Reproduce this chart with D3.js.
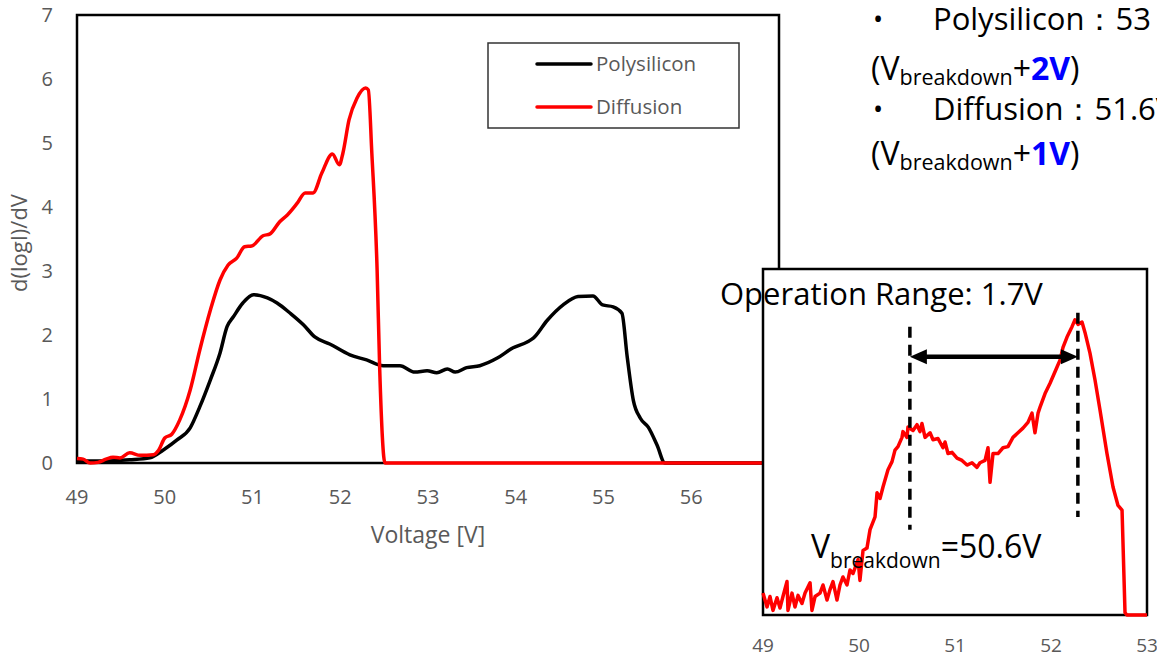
<!DOCTYPE html>
<html>
<head>
<meta charset="utf-8">
<script src="https://cdn.jsdelivr.net/npm/d3@7"></script>
<style>
  body { margin: 0; background: #fff; }
  svg { display: block; font-family: "Open Sans", "Noto Sans", sans-serif; }
</style>
</head>
<body>
<svg id="chart" width="1157" height="658"></svg>
<script>
// ---- Main panel: d(logI)/dV versus voltage ----
const polysiliconVoltage = [49.00, 49.30, 49.60, 49.83, 49.98, 50.14, 50.29, 50.40, 50.52, 50.63, 50.71, 50.78, 50.89, 51.01, 51.17, 51.28, 51.43, 51.58, 51.71, 51.88, 52.11, 52.30, 52.49, 52.68, 52.85, 52.99, 53.10, 53.22, 53.31, 53.44, 53.59, 53.79, 53.97, 54.13, 54.20, 54.36, 54.54, 54.71, 54.88, 54.99, 55.11, 55.21, 55.27, 55.34, 55.42, 55.51, 55.61, 55.70, 57.00];
const polysiliconSlope   = [0.03, 0.03, 0.05, 0.08, 0.20, 0.36, 0.55, 0.88, 1.30, 1.72, 2.13, 2.28, 2.50, 2.63, 2.58, 2.50, 2.34, 2.16, 1.97, 1.86, 1.69, 1.61, 1.52, 1.52, 1.42, 1.44, 1.41, 1.47, 1.42, 1.49, 1.52, 1.64, 1.80, 1.89, 1.95, 2.23, 2.47, 2.60, 2.61, 2.47, 2.44, 2.34, 1.66, 0.98, 0.70, 0.56, 0.28, 0.00, 0.00];

const diffusionVoltage = [49.00, 49.07, 49.15, 49.24, 49.33, 49.41, 49.49, 49.60, 49.72, 49.87, 49.93, 50.00, 50.08, 50.17, 50.29, 50.40, 50.52, 50.63, 50.72, 50.82, 50.91, 50.99, 51.12, 51.20, 51.31, 51.40, 51.51, 51.60, 51.69, 51.79, 51.91, 51.99, 52.03, 52.10, 52.19, 52.29, 52.32, 52.36, 52.42, 52.45, 52.51, 57.00];
const diffusionSlope   = [0.07, 0.06, 0.00, 0.01, 0.06, 0.09, 0.08, 0.16, 0.12, 0.13, 0.20, 0.39, 0.45, 0.67, 1.14, 1.77, 2.39, 2.86, 3.09, 3.20, 3.38, 3.39, 3.55, 3.58, 3.77, 3.88, 4.06, 4.22, 4.22, 4.53, 4.83, 4.66, 4.84, 5.36, 5.70, 5.86, 5.83, 4.84, 3.02, 1.45, 0.00, 0.00];

const mainXTicks = [49, 50, 51, 52, 53, 54, 55, 56];
const mainYTicks = [0, 1, 2, 3, 4, 5, 6, 7];
const seriesNames = ["Polysilicon", "Diffusion"];
const seriesColors = ["#000000", "#ff0000"];

// ---- Inset: measured diffusion derivative near breakdown ----
const insetVoltage = [49.000, 49.042, 49.073, 49.104, 49.146, 49.177, 49.208, 49.250, 49.260, 49.302, 49.333, 49.365, 49.406, 49.438, 49.490, 49.510, 49.542, 49.594, 49.625, 49.667, 49.698, 49.729, 49.771, 49.802, 49.833, 49.875, 49.906, 49.938, 49.990, 50.010, 50.042, 50.083, 50.115, 50.167, 50.188, 50.219, 50.250, 50.302, 50.344, 50.375, 50.406, 50.448, 50.458, 50.500, 50.510, 50.563, 50.604, 50.635, 50.656, 50.688, 50.740, 50.771, 50.823, 50.875, 50.896, 50.927, 50.969, 51.021, 51.073, 51.125, 51.177, 51.229, 51.260, 51.313, 51.344, 51.365, 51.396, 51.448, 51.500, 51.552, 51.604, 51.656, 51.708, 51.760, 51.802, 51.833, 51.865, 51.885, 51.938, 51.990, 52.063, 52.094, 52.125, 52.167, 52.219, 52.250, 52.281, 52.323, 52.354, 52.406, 52.458, 52.510, 52.583, 52.646, 52.698, 52.740, 52.771, 52.790, 53.000];
const insetSlope   = [0.19, 0.07, 0.16, 0.04, 0.15, 0.06, 0.16, 0.29, 0.04, 0.19, 0.07, 0.17, 0.10, 0.19, 0.28, 0.04, 0.16, 0.19, 0.26, 0.13, 0.22, 0.29, 0.13, 0.26, 0.33, 0.26, 0.39, 0.36, 0.48, 0.30, 0.56, 0.58, 0.74, 0.85, 1.06, 1.01, 1.11, 1.26, 1.33, 1.43, 1.46, 1.54, 1.59, 1.54, 1.63, 1.60, 1.65, 1.59, 1.66, 1.54, 1.58, 1.52, 1.53, 1.45, 1.50, 1.40, 1.41, 1.36, 1.34, 1.30, 1.32, 1.28, 1.32, 1.34, 1.45, 1.15, 1.40, 1.40, 1.45, 1.46, 1.54, 1.58, 1.62, 1.67, 1.75, 1.58, 1.75, 1.80, 1.92, 2.01, 2.15, 2.21, 2.32, 2.41, 2.50, 2.56, 2.52, 2.54, 2.45, 2.27, 2.04, 1.78, 1.40, 1.11, 0.95, 0.91, 0.02, 0.00, 0.00];
const insetXTicks = [49, 50, 51, 52, 53];

// Operation window marked on the inset
const breakdownVoltage = 50.53;
const peakVoltage = 52.28;
const arrowLevel = 2.24;
const breakdownMarker = [0.74, 2.50];
const peakMarker = [0.85, 2.62];

const svg = d3.select("#chart");
const axisGrey = "#595959";

// ---------- Main panel ----------
const x = d3.scaleLinear().domain([49, 57]).range([77, 779]);
const y = d3.scaleLinear().domain([0, 7]).range([463, 15]);

svg.append("rect")
  .attr("x", x(49)).attr("y", y(7))
  .attr("width", x(57) - x(49)).attr("height", y(0) - y(7))
  .attr("fill", "#fff").attr("stroke", "#000").attr("stroke-width", 2.5);

svg.append("g").selectAll("text").data(mainYTicks).join("text")
  .attr("x", 53).attr("y", d => y(d)).attr("dy", "0.35em")
  .attr("text-anchor", "end").attr("font-size", 20).attr("fill", axisGrey)
  .text(d => d);

svg.append("g").selectAll("text").data(mainXTicks).join("text")
  .attr("x", d => x(d)).attr("y", 504)
  .attr("text-anchor", "middle").attr("font-size", 20).attr("fill", axisGrey)
  .text(d => d);

svg.append("text")
  .attr("x", 428).attr("y", 543).attr("text-anchor", "middle")
  .attr("font-size", 23).attr("fill", axisGrey).text("Voltage [V]");

svg.append("text")
  .attr("transform", "translate(27,243) rotate(-90)").attr("text-anchor", "middle")
  .attr("font-size", 22).attr("fill", axisGrey).text("d(logI)/dV");

const mainLine = d3.line().x(d => x(d[0])).y(d => y(d[1])).curve(d3.curveMonotoneX);
const polyData = d3.zip(polysiliconVoltage, polysiliconSlope);
const diffData = d3.zip(diffusionVoltage, diffusionSlope);

svg.append("path").datum(polyData).attr("d", mainLine)
  .attr("fill", "none").attr("stroke", seriesColors[0]).attr("stroke-width", 3.5)
  .attr("stroke-linejoin", "round");
svg.append("path").datum(diffData).attr("d", mainLine)
  .attr("fill", "none").attr("stroke", seriesColors[1]).attr("stroke-width", 3.5)
  .attr("stroke-linejoin", "round");

// Legend
const legend = svg.append("g");
legend.append("rect").attr("x", 488).attr("y", 43).attr("width", 251).attr("height", 85)
  .attr("fill", "#fff").attr("stroke", "#333").attr("stroke-width", 1.5);
seriesNames.forEach((name, i) => {
  const ly = 64 + i * 43;
  legend.append("line").attr("x1", 537).attr("x2", 591).attr("y1", ly).attr("y2", ly)
    .attr("stroke", seriesColors[i]).attr("stroke-width", 3.5).attr("stroke-linecap", "round");
  legend.append("text").attr("x", 596).attr("y", ly).attr("dy", "0.35em")
    .attr("font-size", 20.5).attr("fill", axisGrey).text(name);
});

// ---------- Inset ----------
const xi = d3.scaleLinear().domain([49, 53]).range([763, 1147]);
const yi = d3.scaleLinear().domain([0, 3]).range([615, 269]);

svg.append("rect")
  .attr("x", xi(49)).attr("y", yi(3))
  .attr("width", xi(53) - xi(49)).attr("height", yi(0) - yi(3))
  .attr("fill", "#fff").attr("stroke", "#000").attr("stroke-width", 2.5);

svg.append("g").selectAll("text").data(insetXTicks).join("text")
  .attr("x", d => xi(d)).attr("y", 652)
  .attr("text-anchor", "middle").attr("font-size", 19).attr("fill", axisGrey)
  .text(d => d);

const insetLine = d3.line().x(d => xi(d[0])).y(d => yi(d[1]));
svg.append("path").datum(d3.zip(insetVoltage, insetSlope)).attr("d", insetLine)
  .attr("fill", "none").attr("stroke", "#ff0000").attr("stroke-width", 3.5)
  .attr("stroke-linejoin", "round");

// Dashed markers at breakdown and at the peak
[[breakdownVoltage, breakdownMarker], [peakVoltage, peakMarker]].forEach(([v, [lo, hi]]) => {
  svg.append("line").attr("x1", xi(v)).attr("x2", xi(v)).attr("y1", yi(hi)).attr("y2", yi(lo))
    .attr("stroke", "#000").attr("stroke-width", 3.5).attr("stroke-dasharray", "11,7");
});

// Double-headed arrow spanning the operation range
const ax0 = xi(breakdownVoltage), ax1 = xi(peakVoltage), ay = yi(arrowLevel);
const head = 17, half = 7.5;
svg.append("line").attr("x1", ax0 + head - 2).attr("x2", ax1 - head + 2).attr("y1", ay).attr("y2", ay)
  .attr("stroke", "#000").attr("stroke-width", 4.5);
svg.append("path").attr("d", `M${ax0},${ay}L${ax0 + head},${ay - half}L${ax0 + head},${ay + half}Z`).attr("fill", "#000");
svg.append("path").attr("d", `M${ax1},${ay}L${ax1 - head},${ay - half}L${ax1 - head},${ay + half}Z`).attr("fill", "#000");

svg.append("text").attr("x", 720).attr("y", 305)
  .attr("font-size", 31).attr("fill", "#000").text("Operation Range: 1.7V");

const vb = svg.append("text").attr("x", 811).attr("y", 558).attr("font-size", 32).attr("fill", "#000");
vb.append("tspan").text("V");
vb.append("tspan").attr("font-size", 21).attr("dy", 10).text("breakdown");
vb.append("tspan").attr("dy", -10).text("=50.6V");

// ---------- Notes, upper right ----------
const notes = svg.append("g").attr("font-size", 31).attr("fill", "#000");
function bulletLine(yb, label) {
  notes.append("text").attr("x", 873).attr("y", yb - 1).attr("font-size", 27).text("•");
  notes.append("text").attr("x", 933).attr("y", yb).text(label);
}
function offsetLine(yb, amount) {
  const t = notes.append("text").attr("x", 871).attr("y", yb).attr("font-size", 32);
  t.append("tspan").text("(V");
  t.append("tspan").attr("font-size", 21.5).attr("dy", 5).text("breakdown");
  t.append("tspan").attr("dy", -5).text("+");
  t.append("tspan").attr("fill", "#0000ff").attr("font-weight", "bold").text(amount);
  t.append("tspan").text(")");
}
bulletLine(30, "Polysilicon：53");
offsetLine(80, "2V");
bulletLine(120, "Diffusion：51.6V");
offsetLine(165, "1V");
</script>
</body>
</html>
